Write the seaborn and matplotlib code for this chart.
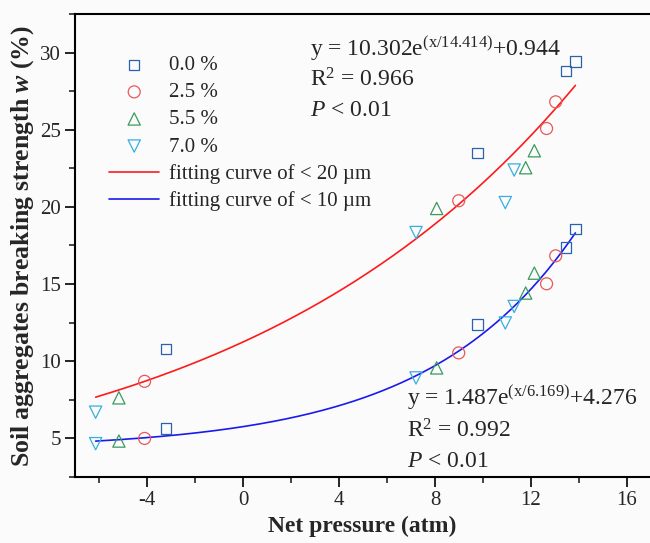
import numpy as np
import pandas as pd
import matplotlib
matplotlib.use("Agg")
import matplotlib.pyplot as plt
import seaborn as sns
from matplotlib.ticker import MultipleLocator

# ---- data ----
series_labels = ["0.0 %", "2.5 %", "5.5 %", "7.0 %"]
x_00 = [-3.22, 9.78, 13.46, 13.85, -3.22, 9.78, 13.46, 13.85]
y_00 = [10.8, 23.5, 28.79, 29.43, 5.65, 12.37, 17.37, 18.55]
x_25 = [-4.10, 8.99, 12.65, 13.03, -4.10, 8.99, 12.65, 13.03]
y_25 = [8.70, 20.4, 25.08, 26.81, 5.00, 10.54, 15.02, 16.83]
x_55 = [-5.17, 8.07, 11.78, 12.14, -5.17, 8.07, 11.78, 12.14]
y_55 = [7.63, 19.9, 22.54, 23.64, 4.83, 9.57, 14.42, 15.71]
x_70 = [-6.14, 7.21, 10.93, 11.30, -6.14, 7.21, 10.93, 11.30]
y_70 = [6.70, 18.34, 20.28, 22.39, 4.66, 8.92, 12.48, 13.55]

fit_labels = ["fitting curve of < 20 \u00b5m", "fitting curve of < 10 \u00b5m"]
fit_a = [10.302, 1.487]
fit_t = [14.414, 6.169]
fit_c = [0.944, 4.276]
fit_r2 = ["0.966", "0.992"]
fit_xrange = [-6.14, 13.85]

x_ticks = [-4, 0, 4, 8, 12, 16]
y_ticks = [5, 10, 15, 20, 25, 30]

# ---- style ----
sns.set_style("white")
plt.rcParams['font.family'] = ['Liberation Serif', 'DejaVu Serif']
plt.rcParams['mathtext.fontset'] = 'custom'
plt.rcParams['mathtext.rm'] = 'Liberation Serif'
plt.rcParams['mathtext.it'] = 'Liberation Serif:italic'
plt.rcParams['mathtext.bf'] = 'Liberation Serif:bold'
plt.rcParams['mathtext.bfit'] = 'Liberation Serif:bold:italic'
plt.rcParams['axes.unicode_minus'] = False

fig = plt.figure(figsize=(6.5, 5.43), dpi=100)
fig.patch.set_facecolor('#fbfbfb')
ax = fig.add_axes([75/650, 1-477/543, 1-75/650, (477-14)/543])
ax.set_facecolor('#fbfbfb')

markers = ['s', 'o', '^', 'v']
colors = ['#2a62b0', '#e8585a', '#3a9a5c', '#38aee0']
sizes = [56, 74, 78, 78]
xs = [x_00, x_25, x_55, x_70]
ys = [y_00, y_25, y_55, y_70]

for xv, yv, m, c, s, lab in zip(xs, ys, markers, colors, sizes, series_labels):
    df = pd.DataFrame({"x": xv, "y": yv})
    sns.scatterplot(data=df, x="x", y="y", marker=m, s=s, facecolor='none',
                    edgecolor=c, linewidth=0.9, ax=ax, label=lab, zorder=3)

line_colors = ['#ff1a1a', '#1a1aee']
for a, t, c0, lc, lab in zip(fit_a, fit_t, fit_c, line_colors, fit_labels):
    xx = np.linspace(fit_xrange[0], fit_xrange[1], 200)
    yy = a * np.exp(xx / t) + c0
    sns.lineplot(x=xx, y=yy, color=lc, linewidth=1.2, ax=ax, label=lab, zorder=2)

ax.set_xlim(-7, 16.96)
ax.set_ylim(2.5, 32.5)
ax.set_xticks(x_ticks)
ax.set_yticks(y_ticks)
ax.xaxis.set_minor_locator(MultipleLocator(2))
ax.yaxis.set_minor_locator(MultipleLocator(2.5))
ax.tick_params(axis='both', which='major', direction='out', length=7, width=1.2,
               labelsize=15, pad=3, color='black', bottom=True, left=True)
ax.tick_params(axis='both', which='minor', direction='out', length=4, width=1.2,
               bottom=True, left=True)
for sp in ['left', 'bottom', 'top']:
    ax.spines[sp].set_visible(True)
    ax.spines[sp].set_linewidth(1.5)
    ax.spines[sp].set_color('black')
ax.spines['right'].set_visible(False)

ax.set_xlabel("Net pressure (atm)", fontsize=17, fontweight='bold', labelpad=4)
ax.set_ylabel(r"Soil aggregates breaking strength $\mathbfit{w}$ (%)",
              fontsize=18.5, fontweight='bold', labelpad=3)

h, l = ax.get_legend_handles_labels()
order = series_labels + fit_labels
hd = dict(zip(l, h))
leg = ax.legend([hd[k] for k in order], order, loc='upper left',
                bbox_to_anchor=(0.045, 0.928), frameon=False, fontsize=15,
                handlelength=2.4, handletextpad=0.45, labelspacing=0.36,
                borderaxespad=0)

# annotations
fs = 17
ax.text(0.408, 0.925, r"y = 10.302e$^{\mathrm{(x/14.414)}}$+0.944",
        transform=ax.transAxes, fontsize=fs, va='center', ha='left')
ax.text(0.408, 0.858, r"R$^{2}$ = " + fit_r2[0], transform=ax.transAxes,
        fontsize=fs, va='center', ha='left')
ax.text(0.408, 0.792, r"$\mathit{P}$ < 0.01", transform=ax.transAxes,
        fontsize=fs, va='center', ha='left')

ax.text(0.577, 0.172, r"y = 1.487e$^{\mathrm{(x/6.169)}}$+4.276",
        transform=ax.transAxes, fontsize=fs, va='center', ha='left')
ax.text(0.577, 0.099, r"R$^{2}$ = " + fit_r2[1], transform=ax.transAxes,
        fontsize=fs, va='center', ha='left')
ax.text(0.577, 0.034, r"$\mathit{P}$ < 0.01", transform=ax.transAxes,
        fontsize=fs, va='center', ha='left')

fig.savefig("out.png", dpi=100, facecolor=fig.get_facecolor())
